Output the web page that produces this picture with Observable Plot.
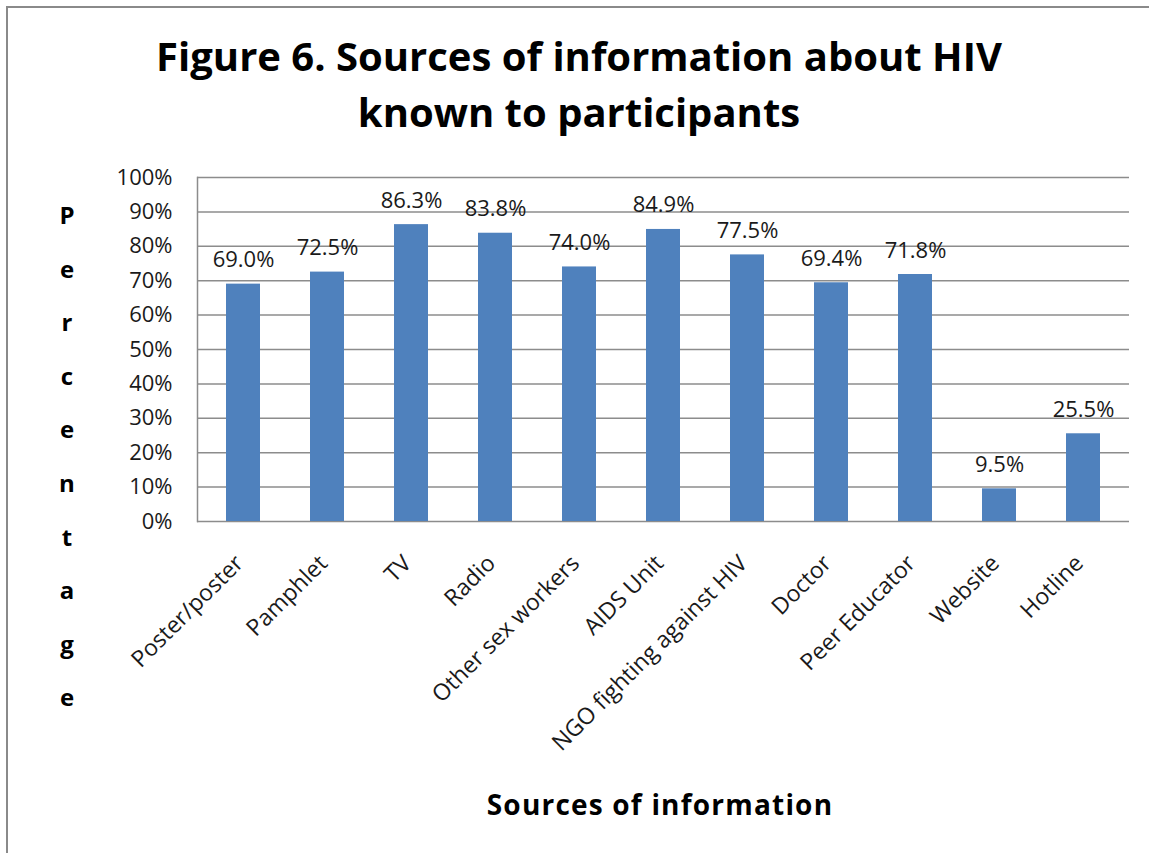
<!DOCTYPE html>
<html>
<head>
<meta charset="utf-8">
<script src="https://cdn.jsdelivr.net/npm/d3@7"></script>
<script src="https://cdn.jsdelivr.net/npm/@observablehq/plot@0.6"></script>
<style>
  body { margin: 0; background: #fff; }
  #chart { position: relative; width: 1149px; height: 853px; overflow: hidden; font-family: "Open Sans", Lato, sans-serif; color: #000; font-variant-ligatures: none; }
  #frame { position: absolute; left: 6px; top: 6px; right: -4px; bottom: -4px; border-top: 2px solid #8a8a8a; border-left: 2px solid #8a8a8a; }
  #title { position: absolute; left: 0; top: 28px; width: 1158px; text-align: center; font-weight: bold; font-size: 40px; line-height: 56px; }
  #ylabel { position: absolute; left: 52px; top: 188px; width: 30px; text-align: center; font-weight: bold; font-size: 24px; line-height: 53.6px; }
  #xlabel { position: absolute; left: 360px; width: 600px; top: 785px; text-align: center; font-weight: bold; font-size: 28px; letter-spacing: 1.2px; line-height: normal; }
  #plot { position: absolute; left: 0; top: 0; }
</style>
</head>
<body>
<div id="chart">
  <div id="frame"></div>
  <div id="title">Figure 6. Sources of information about HIV<br>known to participants</div>
  <div id="ylabel"></div>
  <div id="xlabel">Sources of information</div>
  <div id="plot"></div>
</div>
<script>
// Information sources and the share of participants who knew each one (%)
const categories = [
  "Poster/poster", "Pamphlet", "TV", "Radio", "Other sex workers", "AIDS Unit",
  "NGO fighting against HIV", "Doctor", "Peer Educator", "Website", "Hotline"
];
const values = [69.0, 72.5, 86.3, 83.8, 74.0, 84.9, 77.5, 69.4, 71.8, 9.5, 25.5];
const yTicks = [0, 10, 20, 30, 40, 50, 60, 70, 80, 90, 100];
const yLabel = "Percentage";

const data = categories.map((source, i) => ({ source, pct: values[i] }));

// vertical, letter-by-letter axis title
document.getElementById("ylabel").innerHTML = yLabel.split("").map(c => `<div>${c}</div>`).join("");

const gridColor = "#8c8c8c";
const font = "'Open Sans', Lato, sans-serif";
const ink = "#1a1a1a";

const chart = Plot.plot({
  width: 1149,
  height: 853,
  marginLeft: 197,
  marginRight: 20,
  marginTop: 177,
  marginBottom: 332,
  style: { fontFamily: font, fontSize: "22px", color: "#000", background: "transparent", overflow: "visible" },
  x: { domain: categories, paddingInner: 0.6, paddingOuter: 0.3, label: null },
  y: { domain: [0, 100], label: null },
  marks: [
    Plot.gridY(yTicks, { stroke: gridColor, strokeOpacity: 1, strokeWidth: 1.5 }),
    Plot.frame({ anchor: "left", stroke: gridColor, strokeWidth: 1.5 }),
    Plot.barY(data, { x: "source", y: "pct", fill: "#4F81BD" }),
    Plot.text(data, {
      x: "source", y: "pct",
      text: d => d.pct.toFixed(1) + "%",
      lineAnchor: "bottom", dy: -17, fontSize: 22, letterSpacing: "0.8px", fill: ink
    }),
    Plot.axisY(yTicks, { tickSize: 0, tickPadding: 25, tickFormat: d => d + "%", fontSize: 22, letterSpacing: "1px", fill: ink, label: null }),
    Plot.axisX({ tickSize: 0, tickPadding: 38, dx: -4, tickRotate: -45, fontSize: 23, fill: ink, label: null })
  ]
});
document.getElementById("plot").appendChild(chart);
</script>
</body>
</html>
